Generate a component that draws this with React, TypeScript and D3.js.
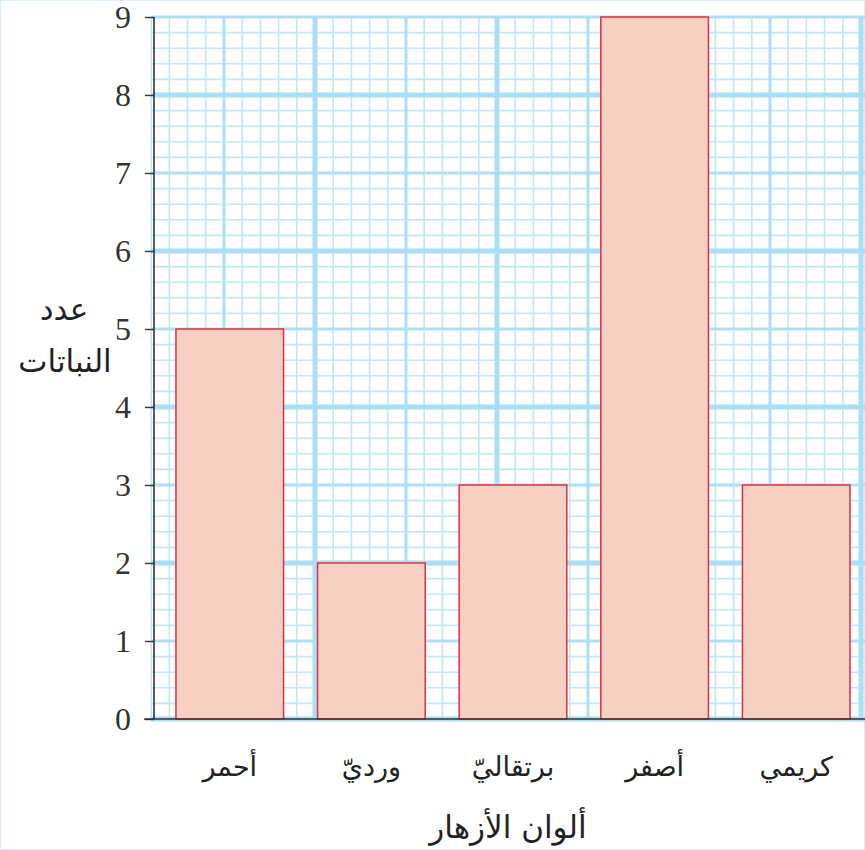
import React, { useEffect, useRef } from 'react';
import * as d3 from 'd3';

// flower colours and number of plants
const colours = ['أحمر', 'ورديّ', 'برتقاليّ', 'أصفر', 'كريمي'];
const plants = [5, 2, 3, 9, 3];
const yTicks = [0, 1, 2, 3, 4, 5, 6, 7, 8, 9];

const App = () => {
  const svgRef = useRef<SVGSVGElement>(null);

  useEffect(() => {
    const width = 865;
    const height = 850;
    const axisX = 154;
    const axisY = 719;
    const top = 17;

    const svg = d3.select(svgRef.current)
      .attr('width', width)
      .attr('height', height);

    svg.selectAll('*').remove();

    const y = d3.scaleLinear().domain([0, 9]).range([axisY, top]);

    const x = d3.scaleBand<string>()
      .domain(colours)
      .range([axisX, 872])
      .paddingInner(0.24)
      .paddingOuter(0.155);

    // squared paper: columns of the grid
    const gx = d3.scaleLinear().domain([0, 40]).range([151.2, 151.2 + 40 * 18.2]);

    svg.append('rect')
      .attr('x', 0.5).attr('y', 0.5)
      .attr('width', width - 1).attr('height', height - 1)
      .style('fill', '#fff')
      .style('stroke', '#d6f0fa');

    const grid = svg.append('g');

    const lineStyle = (i: number) =>
      i % 10 === 0 ? { w: 5, c: '#a9def7' } : i % 5 === 0 ? { w: 3, c: '#addff7' } : { w: 1.6, c: '#bfe7f8' };

    // minor first, then heavier on top
    const hLines = d3.range(0, 46);
    const vLines = d3.range(0, 40).filter(i => gx(i) <= width + 2);
    [0, 1, 2].forEach(level => {
      hLines.forEach(i => {
        const lvl = i % 10 === 0 ? 2 : i % 5 === 0 ? 1 : 0;
        if (lvl !== level) return;
        const s = lineStyle(i);
        grid.append('line')
          .attr('x1', 151).attr('x2', width)
          .attr('y1', y(i / 5)).attr('y2', y(i / 5))
          .style('stroke', s.c).style('stroke-width', s.w);
      });
      vLines.forEach(i => {
        // column index relative to the heavy line at 315
        const k = i + 1;
        const lvl = k % 10 === 0 ? 2 : k % 5 === 0 ? 1 : 0;
        if (lvl !== level) return;
        const s = lineStyle(k);
        grid.append('line')
          .attr('x1', gx(i)).attr('x2', gx(i))
          .attr('y1', top).attr('y2', axisY)
          .style('stroke', s.c).style('stroke-width', s.w);
      });
    });

    // bars
    svg.append('g')
      .selectAll('rect')
      .data(plants)
      .join('rect')
      .attr('x', (d, i) => x(colours[i]) as number)
      .attr('y', d => y(d))
      .attr('width', x.bandwidth())
      .attr('height', d => axisY - y(d))
      .style('fill', '#f6d0c3')
      .style('stroke', '#e2303c')
      .style('stroke-width', 1.5);

    // x axis line
    svg.append('line')
      .attr('x1', 144).attr('x2', width)
      .attr('y1', axisY).attr('y2', axisY)
      .style('stroke', '#333').style('stroke-width', 1.6);

    // y axis
    const yAxis = svg.append('g')
      .attr('transform', `translate(${axisX}, 0)`)
      .call(d3.axisLeft(y).tickValues(yTicks).tickSize(9).tickPadding(14).tickFormat(d3.format('d')));

    yAxis.select('.domain')
      .attr('d', `M0,${axisY}V${top}`)
      .style('stroke', '#333')
      .style('stroke-width', 1.6);
    yAxis.selectAll('.tick line').style('stroke', '#333').style('stroke-width', 1.4);
    yAxis.selectAll('.tick text')
      .attr('dy', '0.34em')
      .style('font-family', '"Liberation Serif", serif')
      .style('font-size', '32px')
      .style('fill', '#333');

    const arabic = '"DejaVu Sans", sans-serif';

    // category labels
    svg.append('g')
      .selectAll('text')
      .data(colours)
      .join('text')
      .attr('x', d => (x(d) as number) + x.bandwidth() / 2)
      .attr('y', 776)
      .attr('text-anchor', 'middle')
      .style('font-family', arabic)
      .style('font-size', '27px')
      .style('fill', '#222')
      .text(d => d);

    // axis titles
    svg.append('text')
      .attr('x', 508).attr('y', 838)
      .attr('text-anchor', 'middle')
      .style('font-family', arabic)
      .style('font-size', '31px')
      .style('fill', '#222')
      .text('ألوان الأزهار');

    svg.append('text')
      .attr('x', 64).attr('y', 320)
      .attr('text-anchor', 'middle')
      .style('font-family', arabic)
      .style('font-size', '31px')
      .style('fill', '#222')
      .text('عدد');

    svg.append('text')
      .attr('x', 65).attr('y', 372)
      .attr('text-anchor', 'middle')
      .style('font-family', arabic)
      .style('font-size', '31px')
      .style('fill', '#222')
      .text('النباتات');
  }, []);

  return (
    <svg ref={svgRef} style={{ position: 'absolute', left: 0, top: 0 }}></svg>
  );
};

export default App;
